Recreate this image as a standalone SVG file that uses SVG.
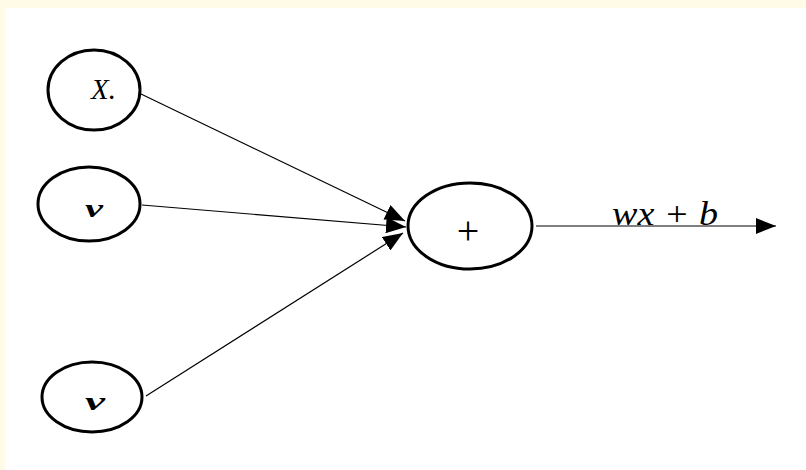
<svg xmlns="http://www.w3.org/2000/svg" width="806" height="470" viewBox="0 0 806 470">
<style>
.node{fill:#fff;stroke:#000;stroke-width:3}
.conn{stroke:#000;stroke-width:1.2;fill:none}
.lbl{font-family:"Liberation Serif",serif;font-style:italic;fill:#000}
</style>
<defs>
<marker id="ah" markerUnits="userSpaceOnUse" markerWidth="20" markerHeight="16" refX="20" refY="8" orient="auto" viewBox="0 0 20 16">
<path d="M0,0 L20,8 L0,16 Z" fill="#000"/>
</marker>
</defs>
<rect x="0" y="0" width="806" height="470" fill="#fff"/>
<rect x="0" y="0" width="806" height="8" fill="#FFFBE6"/>
<rect x="0" y="0" width="5" height="470" fill="#FFFBE6"/>
<g id="connectors">
<line class="conn" x1="141" y1="94" x2="405" y2="221" marker-end="url(#ah)"/>
<line class="conn" x1="142" y1="205" x2="406" y2="227" marker-end="url(#ah)"/>
<line class="conn" x1="146" y1="396" x2="403" y2="233" marker-end="url(#ah)"/>
<line class="conn" x1="536" y1="226" x2="776" y2="226" marker-end="url(#ah)"/>
</g>
<g id="x1">
<ellipse class="node" cx="94" cy="90" rx="46" ry="40"/>
<text class="lbl" x="91" y="99" font-size="29" textLength="25" lengthAdjust="spacingAndGlyphs">X.</text>
</g>
<g id="x2">
<ellipse class="node" cx="89" cy="204" rx="51" ry="37"/>
<text class="lbl" x="85" y="217" font-size="26" font-weight="bold" textLength="18" lengthAdjust="spacingAndGlyphs">v</text>
</g>
<g id="x3">
<ellipse class="node" cx="92" cy="397" rx="50" ry="35"/>
<text class="lbl" x="85" y="410" font-size="26" font-weight="bold" textLength="20" lengthAdjust="spacingAndGlyphs">v</text>
</g>
<g id="sum">
<ellipse class="node" cx="470" cy="226" rx="62" ry="43"/>
<text x="468" y="244" font-family="Liberation Serif,serif" font-size="40" text-anchor="middle">+</text>
</g>
<text class="lbl" x="612" y="225" font-size="33" textLength="106" lengthAdjust="spacingAndGlyphs">wx + b</text>
</svg>
